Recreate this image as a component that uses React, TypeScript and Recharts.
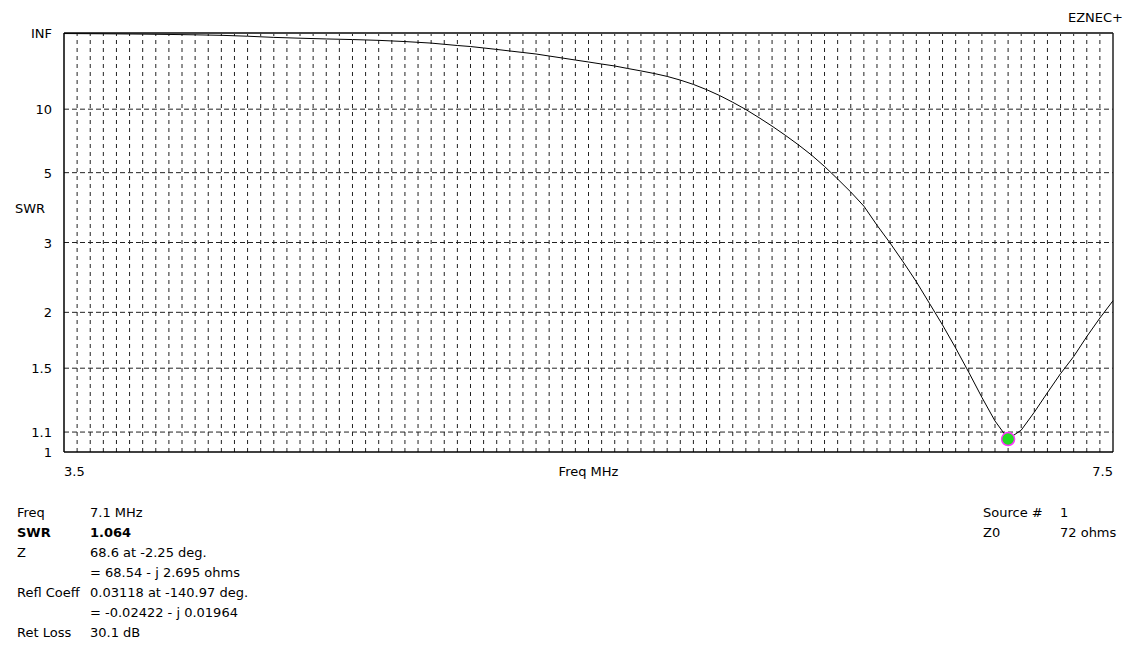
import { LineChart, Line, XAxis, YAxis, CartesianGrid, ReferenceLine, ReferenceDot } from 'recharts';

// sweep frequencies (MHz) and SWR
const freqs = [
  3.5, 3.6, 3.7, 3.8, 3.9, 4.0, 4.1, 4.2, 4.3, 4.4,
  4.5, 4.6, 4.7, 4.8, 4.9, 5.0, 5.05, 5.1, 5.15, 5.2,
  5.25, 5.3, 5.35, 5.4, 5.45, 5.5, 5.55, 5.6, 5.65, 5.7,
  5.75, 5.8, 5.85, 5.9, 5.95, 6.0, 6.05, 6.1, 6.15, 6.2,
  6.25, 6.3, 6.35, 6.4, 6.45, 6.5, 6.55, 6.6, 6.65, 6.7,
  6.75, 6.8, 6.85, 6.9, 6.95, 7.0, 7.05, 7.1, 7.15, 7.2,
  7.25, 7.3, 7.35, 7.4, 7.45, 7.5,
];
const swr = [
  1500, 1200, 950, 750, 580, 460, 360, 260, 190, 160,
  140, 127, 113, 97, 82, 66, 61, 55, 50, 45.6,
  42, 38.9, 35.4, 32.5, 30, 27.9, 26, 24.4, 22.6, 21.1,
  19.7, 18.3, 16.8, 15.3, 13.8, 12.4, 11.1, 9.95, 8.9, 8.0,
  7.2, 6.5, 5.87, 5.28, 4.74, 4.27, 3.84, 3.36, 2.99, 2.66,
  2.37, 2.1, 1.87, 1.66, 1.47, 1.3, 1.16, 1.064, 1.11, 1.21,
  1.33, 1.46, 1.59, 1.76, 1.94, 2.13,
];

const yTickSwr = [1, 1.1, 1.5, 2, 3, 5, 10, Infinity];
const yTickLabels = ['1', '1.1', '1.5', '2', '3', '5', '10', 'INF'];
const gridSwr = [1.1, 1.5, 2, 3, 5, 10];
const xTicks = [3.5, 7.5];

const markerFreq = 7.1;
const markerSwr = 1.064;

const infoLabels = ['Freq', 'SWR', 'Z', '', 'Refl Coeff', '', 'Ret Loss'];
const infoValues = [
  '7.1 MHz',
  '1.064',
  '68.6 at -2.25 deg.',
  '= 68.54 - j 2.695 ohms',
  '0.03118 at -140.97 deg.',
  '= -0.02422 - j 0.01964',
  '30.1 dB',
];
const sourceLabels = ['Source #', 'Z0'];
const sourceValues = ['1', '72 ohms'];

// EZNEC's SWR axis is linear in |reflection coefficient|
const toRho = (s: number) => (s === Infinity ? 1 : (s - 1) / (s + 1));

const data = freqs.map((f, i) => ({ freq: f, rho: toRho(swr[i]) }));
// vertical grid every 0.05 MHz
const gridFreqs = Array.from({ length: 79 }, (_, i) => Math.round((3.55 + i * 0.05) * 100) / 100);

const FONT = '"DejaVu Sans", sans-serif';

const XTick = (props: any) => {
  const { x, y, payload } = props;
  const anchor = payload.value === xTicks[0] ? 'start' : 'end';
  return (
    <text x={x} y={y + 16} textAnchor={anchor} fontSize={13} fontFamily={FONT} fill="#000">
      {payload.value}
    </text>
  );
};

const YTick = (props: any) => {
  const { x, y, index } = props;
  return (
    <text x={x - 4} y={y} dy={5} textAnchor="end" fontSize={13} fontFamily={FONT} fill="#000">
      {yTickLabels[index]}
    </text>
  );
};

const txt = (top: number, left: number, s: string, bold = false) => (
  <div
    style={{
      position: 'absolute',
      top: top - 8,
      left,
      fontSize: 13,
      lineHeight: '16px',
      fontFamily: FONT,
      fontWeight: bold ? 'bold' : 'normal',
      whiteSpace: 'nowrap',
      color: '#000',
    }}
  >
    {s}
  </div>
);

export default function App() {
  return (
    <div style={{ position: 'absolute', left: 0, top: 0, width: 1130, height: 645, background: '#fff' }}>
      <LineChart width={1130} height={645} data={data} margin={{ top: 33, right: 17, left: 0, bottom: 163 }}>
        <CartesianGrid stroke="#222" strokeDasharray="5 3" vertical={false} horizontalValues={gridSwr.map(toRho)} />
        {gridFreqs.map((f) => (
          <ReferenceLine key={f} x={f} stroke="#222" strokeDasharray="4 4" />
        ))}
        <XAxis
          dataKey="freq"
          type="number"
          domain={[3.5, 7.5]}
          ticks={xTicks}
          tickLine={false}
          axisLine={{ stroke: '#000', strokeWidth: 1.5 }}
          height={30}
          tick={XTick}
        />
        <YAxis
          type="number"
          domain={[0, 1]}
          ticks={yTickSwr.map(toRho)}
          tickLine={false}
          axisLine={{ stroke: '#000', strokeWidth: 1.5 }}
          width={64}
          tick={YTick}
          interval={0}
        />
        <ReferenceLine y={1} stroke="#444" strokeWidth={2} />
        <ReferenceLine x={7.5} stroke="#222" strokeWidth={1.5} />
        <Line type="linear" dataKey="rho" stroke="#000" strokeWidth={1} dot={false} isAnimationActive={false} />
        <ReferenceDot x={markerFreq} y={toRho(markerSwr)} r={6.5} fill="#22dd22" stroke="#ff33ff" strokeWidth={1.5} />
      </LineChart>

      <div style={{ position: 'absolute', top: 10, right: 7, fontSize: 13, fontFamily: FONT }}>EZNEC+</div>
      {txt(209, 15, 'SWR')}
      <div style={{ position: 'absolute', top: 464, left: 0, width: 1177, textAlign: 'center', fontSize: 13, fontFamily: FONT }}>
        Freq MHz
      </div>

      {infoLabels.map((l, i) => (
        <div key={'l' + i}>{txt(513 + i * 20, 17, l, i === 1)}</div>
      ))}
      {infoValues.map((v, i) => (
        <div key={'v' + i}>{txt(513 + i * 20, 90, v, i === 1)}</div>
      ))}
      {sourceLabels.map((l, i) => (
        <div key={'s' + i}>{txt(513 + i * 20, 983, l)}</div>
      ))}
      {sourceValues.map((v, i) => (
        <div key={'sv' + i}>{txt(513 + i * 20, 1060, v)}</div>
      ))}
    </div>
  );
}
